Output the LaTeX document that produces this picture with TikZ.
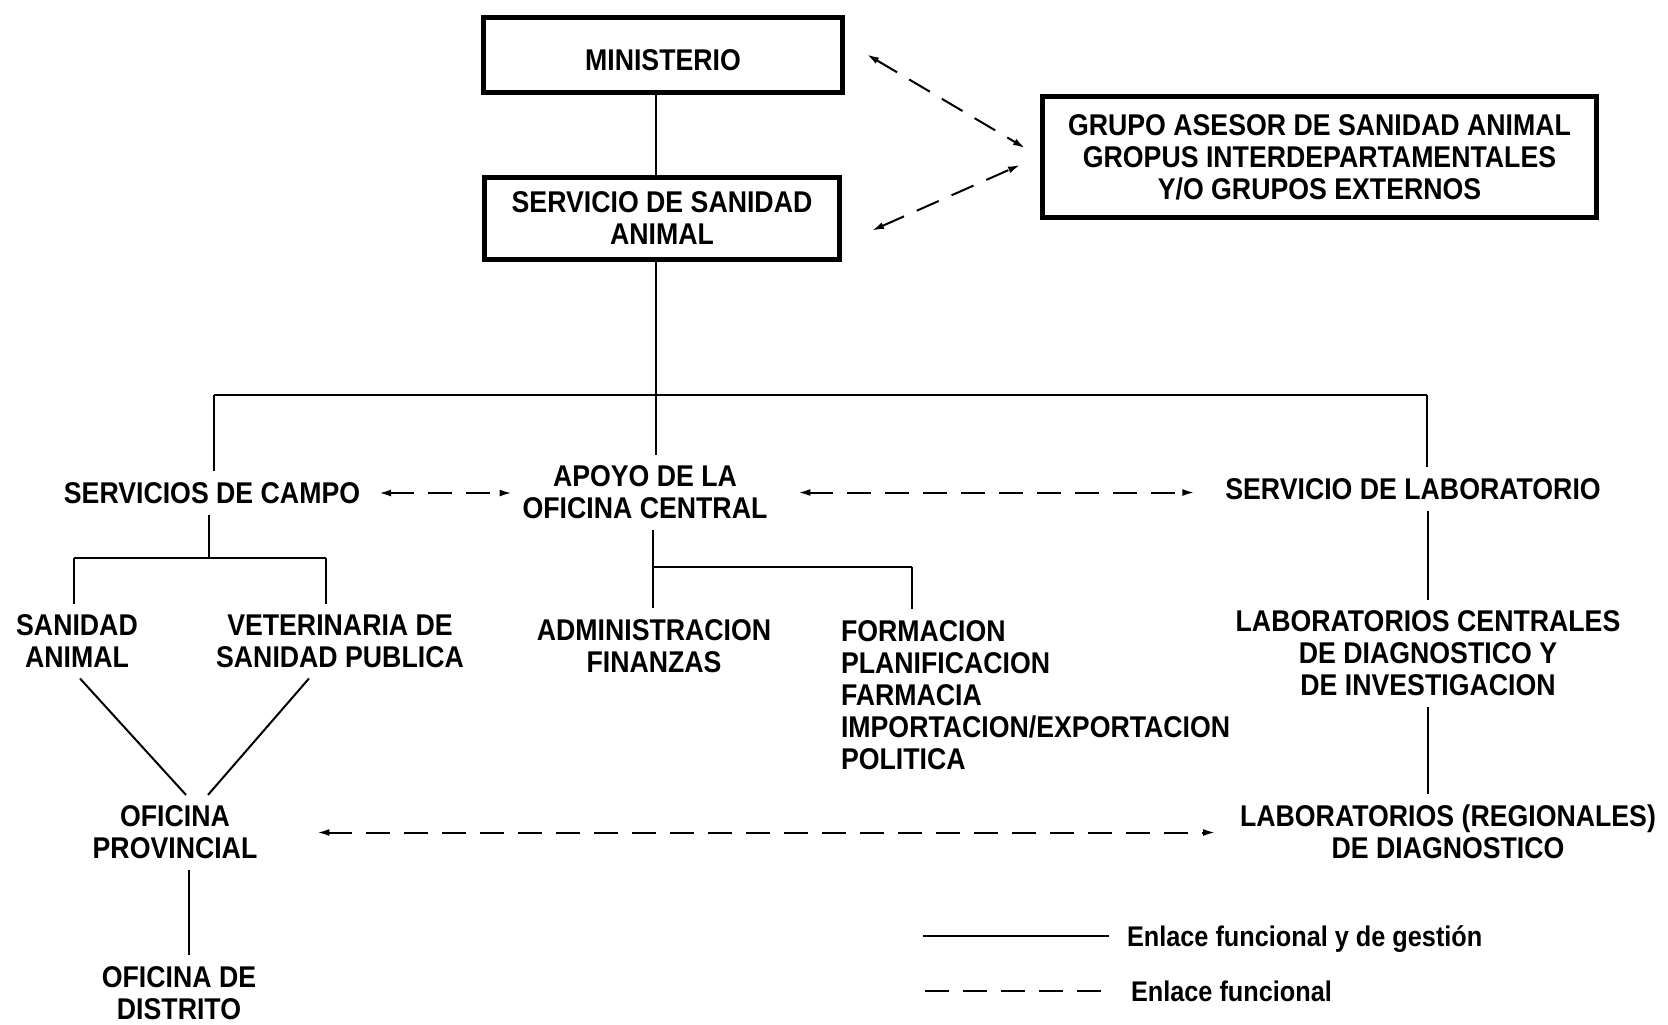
\documentclass[tikz,border=0pt]{standalone}
\usepackage{fontspec}
\setmainfont{Liberation Sans}[FakeStretch=0.89]
\usetikzlibrary{arrows.meta}
\begin{document}
\begin{tikzpicture}[x=0.5pt, y=-0.5pt, line width=1pt,
  orgbox/.style={draw, line width=2.5pt, align=center, inner sep=0pt, font=\bfseries\fontsize{15}{16}\selectfont},
  orgtxt/.style={align=center, inner sep=5pt, font=\bfseries\fontsize{15}{16}\selectfont},
  legtxt/.style={inner sep=4pt, font=\bfseries\fontsize{14.2}{16}\selectfont},
  flink/.style={dash pattern=on 12pt off 7pt, {Latex[length=6pt,width=3.5pt]}-{Latex[length=6pt,width=3.5pt]}}]
\useasboundingbox (0,0) rectangle (1668,1024);
\node[orgbox, minimum width=179.5pt, minimum height=37.5pt, text height=16pt, text depth=0pt] (ministerio) at (663,54.5) {MINISTERIO};
\node[orgbox, minimum width=177.5pt, minimum height=41pt] (servicio) at (662,218.5) {SERVICIO DE SANIDAD\\ANIMAL};
\node[orgbox, minimum width=277pt, minimum height=60.5pt] (grupo) at (1319.5,157) {GRUPO ASESOR DE SANIDAD ANIMAL\\GROPUS INTERDEPARTAMENTALES\\Y/O GRUPOS EXTERNOS};
\node[orgtxt] (campo) at (212,493) {SERVICIOS DE CAMPO};
\node[orgtxt] (apoyo) at (645,492.5) {APOYO DE LA\\OFICINA CENTRAL};
\node[orgtxt] (lab) at (1413,489) {SERVICIO DE LABORATORIO};
\node[orgtxt] (admin) at (654,646) {ADMINISTRACION\\FINANZAS};
\node[orgtxt, align=left, anchor=west] (formacion) at (830,695) {FORMACION\\PLANIFICACION\\FARMACIA\\IMPORTACION/EXPORTACION\\POLITICA};
\node[orgtxt] (sanidad) at (77,641) {SANIDAD\\ANIMAL};
\node[orgtxt] (veterinaria) at (340,641) {VETERINARIA DE\\SANIDAD PUBLICA};
\node[orgtxt] (provincial) at (175,832.5) {OFICINA\\PROVINCIAL};
\node[orgtxt] (distrito) at (179,993) {OFICINA DE\\DISTRITO};
\node[orgtxt] (labcentral) at (1428,653.5) {LABORATORIOS CENTRALES\\DE DIAGNOSTICO Y\\DE INVESTIGACION};
\node[orgtxt] (labregional) at (1448,832) {LABORATORIOS (REGIONALES)\\DE DIAGNOSTICO};
\coordinate (busL) at (214,395);
\coordinate (busM) at (656,395);
\coordinate (busR) at (1427,395);
\coordinate (campoL) at (74,558);
\coordinate (campoM) at (209,558);
\coordinate (campoR) at (326,558);
\coordinate (apoyoL) at (653,567);
\coordinate (apoyoR) at (912,567);
\draw[](ministerio.south -| busM) -- (servicio.north -| busM);
\draw[](servicio.south -| busM) -- (apoyo.north -| busM);
\draw[](busL) -- (busR);
\draw[](busL) -- (busL |- campo.north);
\draw[](busR) -- (busR |- lab.north);
\draw[](campo.south -| campoM) -- (campoM);
\draw[](campoL) -- (campoR);
\draw[](campoL) -- (campoL |- sanidad.north);
\draw[](campoR) -- (campoR |- veterinaria.north);
\draw[](apoyo.south -| apoyoL) -- (apoyoL);
\draw[](apoyoL) -- (apoyoR);
\draw[](apoyoL) -- (apoyoL |- admin.north);
\draw[](apoyoR) -- (apoyoR |- formacion.north);
\draw[]([xshift=1.5pt]sanidad.south) -- ([xshift=5.5pt]provincial.north);
\draw[]([xshift=-15.5pt]veterinaria.south) -- ([xshift=16.5pt]provincial.north);
\draw[]([xshift=7pt]provincial.south) -- ([xshift=7pt]provincial.south |- distrito.north);
\draw[](labcentral.north |- lab.south) -- (labcentral.north);
\draw[](labcentral.south) -- (labcentral.south |- labregional.north);
\draw[flink]([xshift=11pt]ministerio.east) -- ([shift={(-7.5pt,4.5pt)}]grupo.west);
\draw[flink]([shift={(15pt,-6pt)}]servicio.east) -- ([shift={(-10pt,-4pt)}]grupo.west);
\draw[flink, shorten <=4pt](campo.east) -- (campo.east -| apoyo.west);
\draw[flink, shorten <=10pt, shorten >=10pt](apoyo.east) -- (apoyo.east -| lab.west);
\draw[flink, shorten <=24.5pt, shorten >=7pt](provincial.east) -- (provincial.east -| labregional.west);
\coordinate (solidA) at (923,936);
\node[legtxt, anchor=base west] (legsolid) at (1118,946) {Enlace funcional y de gestión};
\draw[shorten >=4.5pt](solidA) -- (solidA -| legsolid.west);
\coordinate (dashA) at (925,991);
\node[legtxt, anchor=base west] (legdash) at (1122,1001) {Enlace funcional};
\draw[dash pattern=on 12pt off 7pt, shorten >=9.5pt](dashA) -- (dashA -| legdash.west);
\end{tikzpicture}
\end{document}
